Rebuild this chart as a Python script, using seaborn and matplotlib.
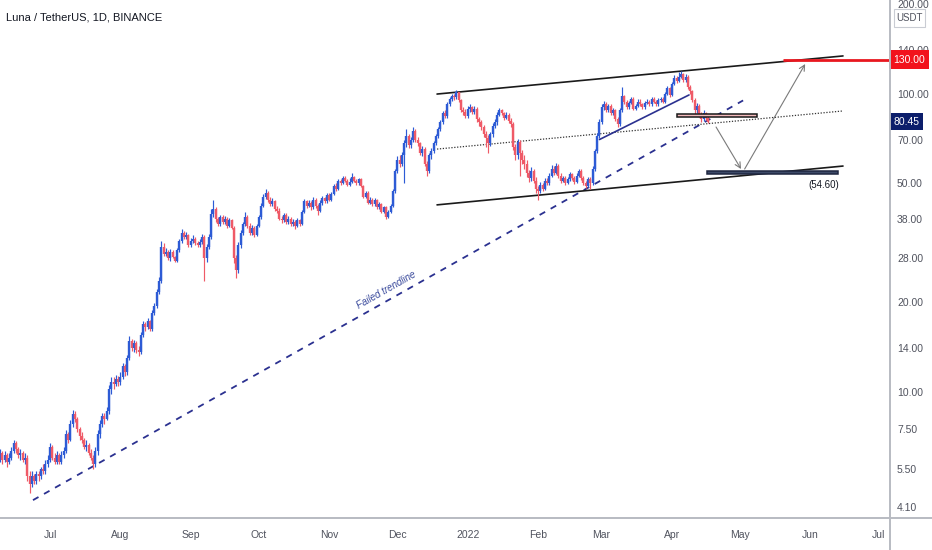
import matplotlib
matplotlib.use("Agg")
import numpy as np
import pandas as pd
import seaborn as sns
import matplotlib.pyplot as plt
import matplotlib.dates as mdates
import matplotlib.transforms as mtransforms
from matplotlib.patches import Rectangle
from matplotlib.lines import Line2D
from matplotlib.ticker import NullLocator

# ---------------- data ----------------
start_date = "2021-06-09"
first_open = 6.0

close_jun = [6.2, 5.9, 6.1, 5.8, 6.0, 6.3, 6.7, 6.4, 6.1, 6.2, 5.9, 6.0, 5.2, 4.9, 5.2, 5.0, 5.3, 5.2, 5.5, 5.4, 5.7, 5.9]
high_jun = [6.4, 6.3, 6.3, 6.2, 6.2, 6.5, 6.9, 6.8, 6.5, 6.4, 6.3, 6.2, 6.1, 5.4, 5.4, 5.3, 5.4, 5.4, 5.6, 5.7, 5.9, 6.1]
low_jun = [5.8, 5.7, 5.8, 5.6, 5.7, 5.9, 6.2, 6.2, 6.0, 5.9, 5.8, 5.7, 5.0, 4.55, 4.8, 4.9, 4.9, 5.0, 5.1, 5.3, 5.3, 5.6]

close_jul = [6.5, 6.0, 5.8, 6.1, 5.8, 6.1, 6.3, 7.2, 6.9, 7.8, 8.4, 8.1, 7.5, 7.1, 6.9, 6.5, 6.6, 6.2, 6.0, 5.7,
             6.3, 7.2, 7.8, 8.3, 8.1, 8.6, 10.2, 10.8, 10.6, 11.0, 10.8]
high_jul = [6.7, 6.6, 6.2, 6.3, 6.2, 6.3, 6.5, 7.4, 7.3, 8.0, 8.7, 8.6, 8.2, 7.6, 7.3, 7.0, 6.9, 6.7, 6.4, 6.1,
            6.5, 7.4, 8.0, 8.5, 8.5, 8.9, 10.5, 11.2, 11.2, 11.4, 11.3]
low_jul = [5.8, 5.9, 5.7, 5.7, 5.7, 5.7, 6.0, 6.2, 6.7, 6.8, 7.6, 7.9, 7.3, 6.9, 6.7, 6.4, 6.3, 6.1, 5.9, 5.5,
           5.6, 6.1, 7.0, 7.6, 7.8, 8.0, 8.4, 9.8, 10.2, 10.4, 10.4]

close_aug = [11.2, 12.2, 11.6, 13.0, 14.8, 14.0, 14.6, 13.8, 13.6, 15.5, 16.8, 16.5, 17.2, 16.2, 18.4, 19.3, 21.5, 23.5, 30.5, 29.0,
             29.5, 28.0, 29.5, 28.3, 27.5, 29.8, 32.0, 34.0, 33.0, 33.5, 31.0]
high_aug = [11.6, 12.5, 12.4, 13.3, 15.3, 15.0, 14.9, 14.8, 14.2, 15.8, 17.3, 17.1, 17.6, 17.4, 18.8, 19.8, 22.0, 24.2, 32.0, 31.5,
            30.2, 29.8, 30.0, 29.8, 28.6, 30.2, 32.6, 35.0, 34.6, 34.2, 33.8]
low_aug = [10.5, 11.0, 11.3, 11.4, 12.8, 13.7, 13.6, 13.5, 13.2, 13.4, 15.2, 16.0, 16.2, 16.0, 16.0, 18.0, 19.0, 21.2, 23.2, 28.4,
           28.5, 27.6, 27.5, 28.0, 27.1, 27.2, 29.5, 31.6, 32.5, 32.5, 30.6]

close_sep = [32.0, 32.5, 31.5, 31.0, 31.8, 33.0, 28.0, 30.5, 33.0, 39.5, 41.0, 38.0, 36.5, 38.5, 37.0, 38.0, 36.0, 37.5, 35.5, 28.0,
             25.5, 31.0, 34.0, 36.5, 38.5, 36.0, 34.0, 35.5, 33.5, 36.0]
high_sep = [32.8, 33.4, 33.0, 32.0, 32.4, 33.8, 33.5, 31.2, 33.8, 41.0, 44.0, 41.5, 38.6, 39.2, 39.0, 38.8, 38.4, 38.2, 37.8, 35.8,
            28.8, 31.8, 34.8, 37.0, 40.0, 39.0, 36.8, 36.2, 36.0, 36.6]
low_sep = [30.5, 31.4, 31.0, 30.6, 30.6, 31.2, 23.5, 27.2, 30.0, 32.5, 38.6, 37.2, 35.8, 36.0, 36.4, 36.5, 35.5, 35.6, 35.0, 27.0,
           24.0, 25.0, 30.4, 33.5, 36.0, 35.4, 33.5, 33.6, 33.0, 33.2]

close_oct = [38.5, 42.0, 45.0, 46.5, 44.0, 42.5, 43.5, 41.0, 40.5, 38.0, 37.5, 39.0, 37.0, 38.0, 36.5, 37.0, 36.0, 37.5, 36.5, 40.0,
             43.5, 42.0, 43.0, 41.5, 44.0, 42.0, 40.5, 43.0, 44.5, 43.5, 45.5]
high_oct = [39.2, 42.8, 46.0, 48.0, 47.0, 45.0, 44.5, 44.0, 42.0, 41.2, 38.8, 39.8, 39.6, 38.8, 38.6, 37.8, 37.6, 38.2, 38.0, 40.8,
            44.2, 44.0, 43.8, 43.6, 44.8, 44.6, 42.6, 43.8, 45.2, 45.0, 46.2]
low_oct = [35.6, 37.8, 41.5, 44.2, 43.2, 41.8, 41.8, 40.4, 39.8, 37.5, 36.8, 37.0, 36.5, 36.6, 36.0, 36.0, 35.0, 35.6, 36.0, 36.2,
           39.6, 41.4, 41.5, 40.8, 41.0, 41.4, 39.0, 40.0, 42.4, 42.8, 43.0]

close_nov = [44.0, 46.0, 49.0, 48.0, 51.0, 50.0, 52.0, 51.0, 49.5, 50.5, 52.5, 51.0, 50.0, 51.5, 49.0, 45.0, 46.5, 43.0, 44.0, 42.5,
             44.0, 41.5, 42.5, 40.0, 41.5, 38.5, 40.0, 42.0, 47.0, 55.0]
high_nov = [46.2, 46.8, 49.8, 50.0, 51.8, 51.6, 53.0, 52.8, 51.6, 52.0, 54.0, 53.0, 51.8, 52.2, 52.0, 49.4, 47.2, 47.0, 44.8, 44.6,
            44.6, 44.4, 43.2, 42.8, 42.0, 41.8, 40.6, 42.6, 48.0, 56.0]
low_nov = [43.5, 43.6, 45.5, 47.2, 47.4, 49.5, 49.6, 50.5, 49.0, 49.0, 50.0, 50.5, 49.5, 49.5, 48.6, 44.5, 44.5, 42.5, 42.5, 42.0,
           42.0, 41.0, 41.0, 39.6, 39.6, 38.0, 38.2, 39.6, 41.6, 46.5]

close_dec = [60.0, 58.0, 62.0, 68.0, 72.0, 67.0, 70.0, 75.0, 70.0, 68.0, 63.0, 65.0, 58.0, 55.0, 62.0, 64.0, 68.0, 72.0, 76.0, 80.0,
             86.0, 84.0, 92.0, 96.0, 98.0, 97.0, 101.0, 95.0, 88.0, 87.0, 84.0]
high_dec = [61.5, 62.0, 63.5, 70.0, 76.0, 73.0, 71.5, 77.0, 76.0, 71.5, 69.0, 66.5, 66.0, 59.5, 63.0, 65.5, 69.5, 73.0, 77.5, 81.5,
            87.5, 88.0, 93.5, 97.5, 100.0, 99.5, 103.0, 101.5, 96.0, 90.0, 89.0]
low_dec = [54.0, 56.5, 57.0, 50.0, 66.0, 65.5, 65.5, 69.0, 69.0, 66.5, 62.0, 61.5, 57.0, 53.0, 54.0, 60.5, 63.0, 67.0, 71.0, 75.0,
           79.0, 82.5, 83.0, 90.5, 94.5, 95.0, 95.5, 93.5, 86.5, 85.0, 82.5]

close_jan = [89.0, 90.0, 87.0, 89.0, 82.0, 80.0, 77.0, 73.0, 71.0, 68.0, 73.0, 78.0, 80.0, 85.0, 88.0, 86.0, 83.0, 85.0, 81.0, 79.0,
             66.0, 62.0, 69.0, 63.0, 60.0, 58.0, 54.0, 52.0, 55.0, 51.0, 48.0]
high_jan = [90.5, 92.0, 91.0, 90.5, 90.0, 83.5, 81.5, 78.5, 75.0, 72.5, 74.5, 79.5, 82.0, 86.5, 89.5, 89.0, 87.0, 86.5, 86.0, 82.5,
            80.0, 67.5, 70.5, 70.0, 64.5, 62.0, 60.0, 55.5, 56.5, 56.0, 52.5]
low_jan = [82.5, 87.0, 85.5, 85.5, 80.5, 78.0, 75.5, 71.5, 66.0, 63.0, 66.5, 71.5, 76.5, 78.5, 84.0, 84.5, 81.5, 82.0, 79.5, 77.5,
           64.5, 60.0, 60.5, 53.0, 58.0, 56.0, 52.5, 50.5, 51.0, 50.0, 46.5]

close_feb = [47.0, 49.5, 48.0, 51.0, 50.0, 53.0, 56.0, 54.0, 57.0, 53.0, 51.0, 52.0, 50.0, 51.5, 53.5, 52.0, 50.5, 53.0, 55.0, 52.0,
             50.0, 49.0, 51.5, 50.0, 56.0, 64.0, 72.0, 80.0]
high_feb = [49.0, 50.5, 50.0, 52.0, 52.0, 54.0, 57.5, 57.0, 58.5, 58.0, 54.0, 53.0, 52.8, 52.5, 54.5, 54.2, 52.8, 54.0, 56.0, 55.6,
            52.8, 51.0, 52.5, 52.5, 57.0, 65.0, 73.5, 82.0]
low_feb = [44.0, 46.5, 47.0, 47.5, 49.2, 49.5, 52.5, 53.2, 53.5, 52.0, 50.2, 50.5, 49.4, 49.6, 51.0, 51.2, 49.8, 50.0, 52.4, 51.4,
           49.4, 48.2, 48.6, 48.0, 49.5, 55.0, 63.0, 71.0]

close_mar = [90.0, 92.0, 88.0, 91.0, 86.0, 88.0, 82.0, 79.0, 88.0, 98.0, 94.0, 90.0, 93.0, 96.0, 89.0, 91.0, 94.0, 92.0, 90.0, 93.0,
             94.0, 92.0, 96.0, 94.0, 92.0, 95.0, 96.0, 94.0, 100.0, 104.0, 99.0]
high_mar = [92.0, 94.5, 93.5, 92.5, 92.0, 89.5, 89.0, 83.5, 89.5, 105.0, 99.0, 95.0, 94.5, 97.5, 97.0, 92.5, 95.5, 95.5, 93.0, 94.5,
            95.5, 95.0, 97.5, 97.0, 95.0, 96.5, 97.5, 97.5, 101.5, 106.0, 105.0]
low_mar = [79.0, 88.0, 86.5, 87.0, 85.0, 85.0, 81.0, 77.5, 78.0, 87.0, 92.5, 88.5, 89.0, 92.0, 88.0, 88.0, 90.0, 91.0, 89.0, 89.0,
           92.0, 91.0, 91.0, 93.0, 91.0, 91.0, 94.0, 93.0, 93.0, 98.5, 97.5]

close_apr = [108.0, 113.0, 110.0, 114.0, 116.0, 111.0, 114.0, 105.0, 102.0, 95.0, 88.0, 91.0, 85.0, 82.0, 86.0, 83.0, 80.45]
high_apr = [109.5, 115.0, 114.5, 118.0, 119.0, 117.0, 116.0, 115.0, 106.5, 103.0, 96.5, 93.0, 92.0, 87.0, 88.0, 87.0, 84.5]
low_apr = [98.0, 106.5, 108.5, 109.0, 112.5, 109.5, 109.5, 103.5, 100.0, 93.5, 85.5, 86.0, 83.5, 80.5, 81.0, 81.5, 79.5]

# price axis ticks and month labels
price_ticks = [4.1, 5.5, 7.5, 10, 14, 20, 28, 38, 50, 70, 100, 140, 200]
month_starts = ["2021-07-01", "2021-08-01", "2021-09-01", "2021-10-01", "2021-11-01", "2021-12-01", "2022-01-01",
                "2022-02-01", "2022-03-01", "2022-04-01", "2022-05-01", "2022-06-01", "2022-07-01"]
month_labels = ["Jul", "Aug", "Sep", "Oct", "Nov", "Dec", "2022", "Feb", "Mar", "Apr", "May", "Jun", "Jul"]

# drawings (date, price) pairs
trend_dates = ["2021-06-23 12:00", "2022-05-02 08:00"]
trend_prices = [4.32, 94.8]
channel_dates = ["2021-12-18 12:00", "2022-06-15 08:00"]
upper_prices = [99.6, 133.7]
lower_prices = [42.3, 57.1]
mid_prices = [65.1, 87.4]
wedge_dates = ["2022-02-28 02:00", "2022-04-08 12:00"]
wedge_prices = [70.1, 98.9]
zone_up_dates = ["2022-04-03 05:00", "2022-05-08 12:00"]
zone_up_prices = [83.2, 85.2]
zone_low_dates = ["2022-04-16 07:00", "2022-06-13 02:00"]
zone_low_prices = [53.6, 55.0]
arrow1_dates = ["2022-04-20 10:00", "2022-05-01 10:00"]
arrow1_prices = [77.2, 55.8]
arrow2_dates = ["2022-05-03 00:00", "2022-05-29 16:00"]
arrow2_prices = [55.8, 125.6]
target_date = "2022-05-20"
target_price = 130.0
last_price = 80.45
support_label = "(54.60)"
support_label_pos = ("2022-06-07", 49.3)
trend_label = "Failed trendline"
trend_label_pos = ("2021-11-26", 21.9)
title = "Luna / TetherUS, 1D, BINANCE"

# ---------------- assemble ----------------
closes = np.array(close_jun + close_jul + close_aug + close_sep + close_oct + close_nov +
                  close_dec + close_jan + close_feb + close_mar + close_apr)
highs = np.array(high_jun + high_jul + high_aug + high_sep + high_oct + high_nov +
                 high_dec + high_jan + high_feb + high_mar + high_apr)
lows = np.array(low_jun + low_jul + low_aug + low_sep + low_oct + low_nov +
                low_dec + low_jan + low_feb + low_mar + low_apr)
opens = np.concatenate([[first_open], closes[:-1]])
highs = np.maximum(highs, np.maximum(opens, closes))
lows = np.minimum(lows, np.minimum(opens, closes))
dates = pd.date_range(start_date, periods=len(closes), freq="D")
df = pd.DataFrame({"date": dates, "open": opens, "high": highs, "low": lows, "close": closes})
df["x"] = mdates.date2num(df["date"])
df["up"] = df["close"] >= df["open"]

def dn(s):
    return mdates.date2num(pd.Timestamp(s))

# ---------------- figure ----------------
sns.set_theme(style="white")
plt.rcParams["font.family"] = ["Liberation Sans", "DejaVu Sans"]

W, H = 932, 550
fig = plt.figure(figsize=(W / 100, H / 100), dpi=100)
fig.patch.set_facecolor("white")
ax = fig.add_axes([0, 32 / H, 890 / W, 518 / H])
ax.set_facecolor("white")
ax.set_yscale("log")

BLUE = "#2d5bd5"
RED = "#ef5a67"
colors = np.where(df["up"], BLUE, RED)

ax.vlines(df["x"], df["low"], df["high"], colors=colors, lw=0.85, zorder=3)
ax.vlines(df["x"], np.minimum(df["open"], df["close"]), np.maximum(df["open"], df["close"]),
          colors=colors, lw=1.7, zorder=3)

# trendlines
td = [dn(s) for s in trend_dates]
sns.lineplot(x=td, y=trend_prices, ax=ax, color="#2b3190", lw=1.3, zorder=2)
ax.lines[-1].set_dashes([3.5, 3.5])
cd = [dn(s) for s in channel_dates]
sns.lineplot(x=cd, y=upper_prices, ax=ax, color="#1a1a1a", lw=1.2, zorder=2)
sns.lineplot(x=cd, y=lower_prices, ax=ax, color="#1a1a1a", lw=1.2, zorder=2)
sns.lineplot(x=cd, y=mid_prices, ax=ax, color="#333333", lw=0.9, zorder=2)
ax.lines[-1].set_dashes([1, 1.3])
wd = [dn(s) for s in wedge_dates]
sns.lineplot(x=wd, y=wedge_prices, ax=ax, color="#2b3190", lw=1.2, zorder=4)

# zones
zd = [dn(s) for s in zone_up_dates]
ax.add_patch(Rectangle((zd[0], zone_up_prices[0]), zd[1] - zd[0], zone_up_prices[1] - zone_up_prices[0],
                       facecolor="#f3b9bb", edgecolor="#1a1a1a", lw=1.1, zorder=5))
zl = [dn(s) for s in zone_low_dates]
ax.add_patch(Rectangle((zl[0], zone_low_prices[0]), zl[1] - zl[0], zone_low_prices[1] - zone_low_prices[0],
                       facecolor="#3d4a68", edgecolor="#1e2640", lw=1.1, zorder=5))

# arrows
for ad, ap in [(arrow1_dates, arrow1_prices), (arrow2_dates, arrow2_prices)]:
    ax.annotate("", xy=(dn(ad[1]), ap[1]), xytext=(dn(ad[0]), ap[0]),
                arrowprops=dict(arrowstyle="->", color="#7a7a7a", lw=0.8, mutation_scale=10,
                                shrinkA=0, shrinkB=0), zorder=4)

# target line
xlim = (dn("2021-07-01") - 22.03, dn("2021-07-01") + 370.04)
ax.plot([dn(target_date), xlim[1]], [target_price, target_price], color="#e8171f", lw=2.0,
        solid_capstyle="butt", zorder=4)

# texts
ax.text(dn(support_label_pos[0]), support_label_pos[1], support_label, fontsize=7, color="#131722",
        ha="center", va="center")
ax.text(dn(trend_label_pos[0]), trend_label_pos[1], trend_label, fontsize=7, color="#3a4a9c",
        style="italic", ha="center", va="center", rotation=29.5)

ax.set_xlim(*xlim)
ax.set_ylim(3.763, 206.0)

# axes ticks
ax.set_yticks(price_ticks)
ax.set_yticklabels([f"{v:.2f}" for v in price_ticks])
ax.yaxis.set_minor_locator(NullLocator())
ax.yaxis.tick_right()
ax.tick_params(axis="y", length=0, pad=5, labelsize=7.5, labelcolor="#50535e")
ax.set_xticks([dn(s) for s in month_starts])
ax.set_xticklabels(month_labels)
ax.xaxis.set_minor_locator(NullLocator())
ax.tick_params(axis="x", length=0, pad=9, labelsize=7.5, labelcolor="#50535e")
ax.grid(False)
for sp in ax.spines.values():
    sp.set_visible(False)
ax.set_xlabel("")
ax.set_ylabel("")

# panel separators
fig.add_artist(Line2D([890 / W, 890 / W], [0, 1], transform=fig.transFigure, color="#b8bbc2", lw=1.4))
fig.add_artist(Line2D([0, 1], [32 / H, 32 / H], transform=fig.transFigure, color="#b8bbc2", lw=1.4))

# price labels on the scale
blend = mtransforms.blended_transform_factory(ax.transAxes, ax.transData)
ax.text(1.004, target_price, "130.00", transform=blend, fontsize=7.5, color="white", ha="left", va="center",
        bbox=dict(boxstyle="square,pad=0.4", facecolor="#f2121c", edgecolor="none"), clip_on=False, zorder=10)
ax.text(1.004, last_price, f"{last_price:.2f}", transform=blend, fontsize=7.5, color="white", ha="left",
        va="center", bbox=dict(boxstyle="square,pad=0.35", facecolor="#0c1e6b", edgecolor="none"),
        clip_on=False, zorder=10)

# currency box
fig.add_artist(Rectangle((894 / W, 1 - 27 / H), 31 / W, 18 / H, transform=fig.transFigure,
                         facecolor="white", edgecolor="#c9ccd3", lw=0.8, zorder=20))
fig.text(909.5 / W, 1 - 18 / H, "USDT", fontsize=7, color="#50535e", ha="center", va="center", zorder=21)

fig.text(6 / W, 1 - 17 / H, title, fontsize=8, color="#131722", ha="left", va="center")

fig.savefig("out.png", dpi=100, facecolor="white")
